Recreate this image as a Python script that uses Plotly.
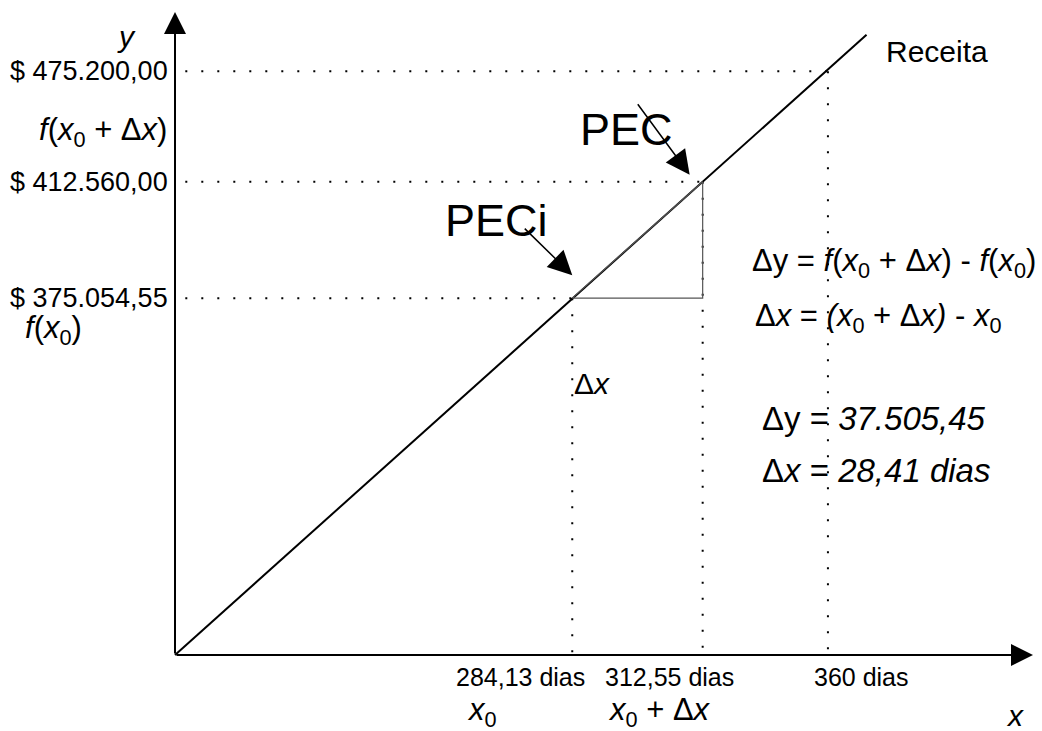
import plotly.graph_objects as go

# Ponto de equilíbrio contábil: valores do gráfico
dias = [284.13, 312.55, 360]
receita = [375054.55, 412560.00, 475200.00]
rotulos_x = ["284,13 dias", "312,55 dias", "360 dias"]
rotulos_y = ["$ 375.054,55", "$ 412.560,00", "$ 475.200,00"]
nomes_x = ["<i>x</i><sub>0</sub>", "<i>x</i><sub>0</sub> + Δ<i>x</i>"]
delta_y_txt = "37.505,45"
delta_x_txt = "28,41 dias"

# Esboço fora de escala: posição de cada valor ao longo dos eixos (0 = origem, 1 = ponta da seta)
pos_x = [0.463, 0.615, 0.761]
pos_y = [0.555, 0.736, 0.908]
fim_receita = 0.806          # até onde a reta da receita se estende no eixo x

W, H = 1042, 731
ORIG_PX = (175, 655)          # origem dos eixos, em pixels
EIXO_X_PX, EIXO_Y_PX = 858, 643

FONTE = "Liberation Sans, Arial, sans-serif"
TAM = 26
TAM_FORM = 31

fig = go.Figure()

# Reta da receita passando pelos pontos PECi e PEC
incl = pos_y[1] / pos_x[1]
fig.add_trace(go.Scatter(x=[0, fim_receita], y=[0, incl * fim_receita], mode="lines",
                         line=dict(color="black", width=2), hoverinfo="skip"))

# Linhas pontilhadas de referência
pont = dict(color="black", width=2, dash="2px,14px")
for xv, yv in zip(pos_x, pos_y):
    fig.add_trace(go.Scatter(x=[0.012, xv], y=[yv, yv], mode="lines", line=pont, hoverinfo="skip"))
    fig.add_trace(go.Scatter(x=[xv, xv], y=[yv, 0.0], mode="lines", line=pont, hoverinfo="skip"))

# Triângulo do acréscimo (Δx, Δy)
fig.add_trace(go.Scatter(x=[pos_x[0], pos_x[1], pos_x[1], pos_x[0]],
                         y=[pos_y[0], pos_y[0], pos_y[1], pos_y[0]], mode="lines",
                         line=dict(color="#555555", width=1.2), hoverinfo="skip"))

ann = []
# Eixos com setas
for (hx, hy) in [(1, 0), (0, 1)]:
    ann.append(dict(x=hx, y=hy, ax=0, ay=0, axref="x", ayref="y", xref="x", yref="y", text="",
                    showarrow=True, arrowhead=2, arrowsize=2.2, arrowwidth=2, arrowcolor="black"))

# Rótulos do eixo y
for yv, t in zip(pos_y, rotulos_y):
    ann.append(dict(x=0, y=yv, xref="x", yref="y", text=t, showarrow=False, font=dict(size=27),
                    xanchor="right", yanchor="middle", xshift=-5))
ann.append(dict(x=0, y=pos_y[1], xref="x", yref="y", text="<i>f</i>(<i>x</i><sub>0</sub> + Δ<i>x</i>)",
                showarrow=False, font=dict(size=TAM_FORM), xanchor="right", yanchor="middle",
                xshift=-6, yshift=50))
ann.append(dict(x=0, y=pos_y[0], xref="x", yref="y", text="<i>f</i>(<i>x</i><sub>0</sub>)",
                showarrow=False, font=dict(size=TAM_FORM), xanchor="left", yanchor="middle",
                xshift=-152, yshift=-32))

# Rótulos do eixo x
desloc_x = [-52, -33, 34]
for xv, t, d in zip(pos_x, rotulos_x, desloc_x):
    ann.append(dict(x=xv, y=0, xref="x", yref="y", text=t, showarrow=False, font=dict(size=25),
                    xanchor="center", yanchor="middle", xshift=d, yshift=-22))
for xv, t, d in zip(pos_x[:2], nomes_x, [-90, -43]):
    ann.append(dict(x=xv, y=0, xref="x", yref="y", text=t, showarrow=False, font=dict(size=31),
                    xanchor="center", yanchor="middle", xshift=d, yshift=-57))

# Nomes dos eixos
ann.append(dict(x=1, y=0, xref="x", yref="y", text="<i>x</i>", showarrow=False, font=dict(size=30),
                xanchor="center", yanchor="middle", xshift=-18, yshift=-60))
ann.append(dict(x=0, y=1, xref="x", yref="y", text="<i>y</i>", showarrow=False, font=dict(size=30),
                xanchor="center", yanchor="middle", xshift=-49, yshift=-24))

# Reta da receita
ann.append(dict(x=fim_receita, y=incl * fim_receita, xref="x", yref="y", text="Receita",
                showarrow=False, font=dict(size=30), xanchor="left", yanchor="middle",
                xshift=17, yshift=-17))

# Setas PECi e PEC
ann.append(dict(x=pos_x[0], y=pos_y[0], xref="x", yref="y", text="", showarrow=True,
                arrowhead=2, arrowsize=3.2, arrowwidth=1.5, arrowcolor="black",
                ax=-49, ay=-48, yshift=23))
ann.append(dict(x=pos_x[1], y=pos_y[1], xref="x", yref="y", text="", showarrow=True,
                arrowhead=2, arrowsize=3.2, arrowwidth=1.5, arrowcolor="black",
                ax=-53, ay=-72, xshift=-13, yshift=7))
ann.append(dict(x=pos_x[0], y=pos_y[0], xref="x", yref="y", text="PECi", showarrow=False,
                font=dict(size=45), xanchor="center", yanchor="middle", xshift=-76, yshift=78))
ann.append(dict(x=pos_x[1], y=pos_y[1], xref="x", yref="y", text="PEC", showarrow=False,
                font=dict(size=45), xanchor="center", yanchor="middle", xshift=-76, yshift=52))

# Δx sob o triângulo
ann.append(dict(x=pos_x[0], y=pos_y[0], xref="x", yref="y", text="Δ<i>x</i>", showarrow=False,
                font=dict(size=30), xanchor="left", yanchor="middle", xshift=0, yshift=-85))

# Definições e resultados à direita
eqs = [
    ("Δy = <i>f</i>(<i>x</i><sub>0</sub> + Δ<i>x</i>) - <i>f</i>(<i>x</i><sub>0</sub>)", 750, 263, TAM_FORM),
    ("Δ<i>x</i> = <i>(x</i><sub>0</sub> + Δ<i>x) </i>- <i>x</i><sub>0</sub>", 753, 318, TAM_FORM),
    ("Δy = <i>" + delta_y_txt + "</i>", 760, 418, 33),
    ("Δ<i>x</i> = <i>" + delta_x_txt + "</i>", 760, 470, 33),
]
for t, px, py, s in eqs:
    ann.append(dict(x=px / W, y=1 - py / H, xref="paper", yref="paper", text=t, showarrow=False,
                    font=dict(size=s), xanchor="left", yanchor="middle"))

fig.update_layout(
    width=W, height=H, margin=dict(l=0, r=0, t=0, b=0),
    paper_bgcolor="white", plot_bgcolor="white", showlegend=False,
    font=dict(family=FONTE, size=TAM, color="black"),
    xaxis=dict(visible=False, range=[-ORIG_PX[0] / EIXO_X_PX, (W - ORIG_PX[0]) / EIXO_X_PX]),
    yaxis=dict(visible=False, range=[-(H - ORIG_PX[1]) / EIXO_Y_PX, ORIG_PX[1] / EIXO_Y_PX]),
    annotations=ann,
)

fig.write_html("out.html")
